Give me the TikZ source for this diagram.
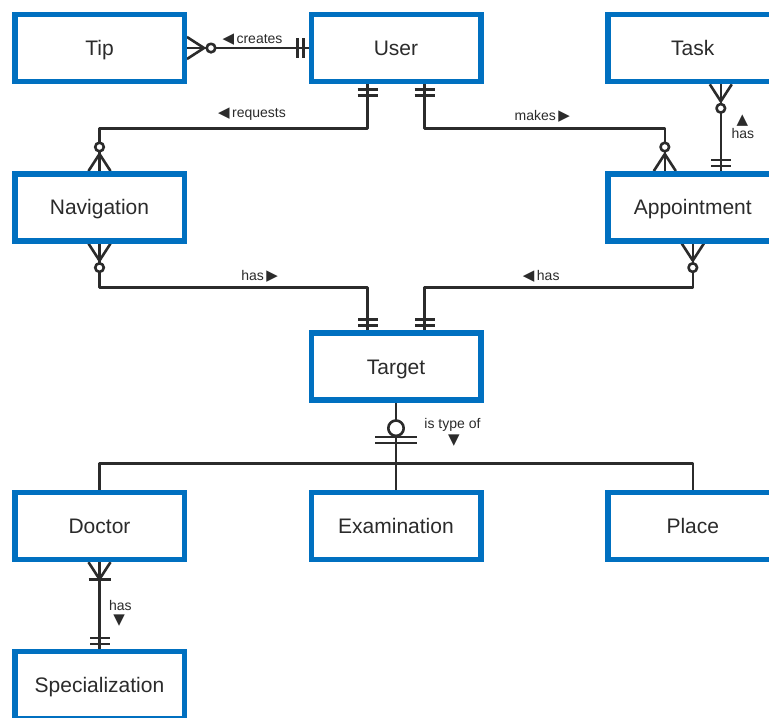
\documentclass[tikz,border=0pt]{standalone}
\usepackage{fontspec}
\setmainfont{Liberation Sans}
\newfontfamily\symf{DejaVu Sans}
\usetikzlibrary{calc}
\definecolor{boxblue}{RGB}{0,112,192}
\definecolor{ink}{RGB}{43,43,43}
\newcommand\mytri[1]{{\symf\fontsize{15}{15}\selectfont #1}}
\tikzset{
  entity/.style={draw=boxblue, line width=5.5pt, fill=white, minimum width=169.5pt,
    minimum height=67.1pt, inner sep=0pt, text height=15pt, text depth=0pt,
    font=\fontsize{21}{25}\selectfont, text=ink},
  conn/.style={draw=ink, line width=2.6pt, line join=round},
  lbl/.style={font=\fontsize{14}{16}\selectfont, text=ink, inner sep=0pt},
  tri/.style={font=\symf\fontsize{15}{15}\selectfont, text=ink, inner sep=0pt,
    text height=8pt, text depth=0pt, anchor=base},
  zmany/.pic={\draw[conn] (0pt,11pt)--(17pt,0pt)--(0pt,-11pt);
    \draw[conn] (0pt,0pt)--(17pt,0pt);
    \draw[conn,fill=white] (24pt,0pt) circle (4.3pt);},
  omany/.pic={\draw[conn] (0pt,11pt)--(17pt,0pt)--(0pt,-11pt);
    \draw[conn] (17pt,-11pt)--(17pt,11pt);},
  mone/.pic={\draw[conn] (5pt,-10pt)--(5pt,10pt) (11pt,-10pt)--(11pt,10pt);},
  zone/.pic={\draw[conn,fill=white] (25.3pt,0pt) circle (7.7pt);
    \draw[conn] (34pt,-21pt)--(34pt,21pt) (40pt,-21pt)--(40pt,21pt);}
}
\begin{document}
\begin{tikzpicture}[x=1pt,y=-1pt]
\useasboundingbox (0,0) rectangle (769,718);
\fill[white] (0,0) rectangle (769,718);
\clip (0,0) rectangle (769,718);

\path
  (99.5,48) coordinate (ctip)
  (396,48) coordinate (cuser)
  (692.8,48) coordinate (ctask)
  (99.5,207.3) coordinate (cnav)
  (692.8,207.3) coordinate (capp)
  (396,366.6) coordinate (ctarget)
  (99.5,525.9) coordinate (cdoc)
  (396,525.9) coordinate (cexam)
  (692.8,525.9) coordinate (cplace)
  (99.5,685.2) coordinate (cspec);

\node[entity] (tip) at (ctip) {Tip};
\node[entity] (user) at (cuser) {User};
\node[entity] (task) at (ctask) {Task};
\node[entity] (nav) at (cnav) {Navigation};
\node[entity] (app) at (capp) {Appointment};
\node[entity] (target) at (ctarget) {Target};
\node[entity] (doctor) at (cdoc) {Doctor};
\node[entity] (exam) at (cexam) {Examination};
\node[entity] (place) at (cplace) {Place};
\node[entity] (spec) at (cspec) {Specialization};

% connectors
\draw[conn] (tip.east) -- (user.west);
\draw[conn] ($(user.south)+(-28.5,0)$) -- ++(0,44) -| (nav.north);
\draw[conn] ($(user.south)+(28.5,0)$) -- ++(0,44) -| ($(app.north)+(-28,0)$);
\draw[conn] ($(task.south)+(28,0)$) -- ($(app.north)+(28,0)$);
\draw[conn] (nav.south) -- ++(0,44) -| ($(target.north)+(-28.5,0)$);
\draw[conn] (app.south) -- ++(0,44) -| ($(target.north)+(28.5,0)$);
\draw[conn] (target.south) -- (exam.north);
\draw[conn] (doctor.north) -- ++(0,-26) -| (place.north);
\draw[conn] (doctor.south) -- (spec.north);

% end symbols
\pic[rotate=0] at (tip.east) {zmany};
\pic[rotate=180] at (user.west) {mone};
\pic[rotate=-90] at ($(user.south)+(-28.5,0)$) {mone};
\pic[rotate=-90] at ($(user.south)+(28.5,0)$) {mone};
\pic[rotate=90] at (nav.north) {zmany};
\pic[rotate=90] at ($(app.north)+(-28,0)$) {zmany};
\pic[rotate=-90] at ($(task.south)+(28,0)$) {zmany};
\pic[rotate=90] at ($(app.north)+(28,0)$) {mone};
\pic[rotate=-90] at (nav.south) {zmany};
\pic[rotate=-90] at (app.south) {zmany};
\pic[rotate=90] at ($(target.north)+(-28.5,0)$) {mone};
\pic[rotate=90] at ($(target.north)+(28.5,0)$) {mone};
\pic[rotate=-90] at (target.south) {zone};
\pic[rotate=-90] at (doctor.south) {omany};
\pic[rotate=90] at (spec.north) {mone};

% redraw boxes on top of line ends
\foreach \n/\t in {tip/Tip,user/User,task/Task,nav/Navigation,app/Appointment,target/Target,doctor/Doctor,exam/Examination,place/Place,spec/Specialization}{
  \node[entity] at (\n) {\t};
}

% labels
\node[lbl, anchor=base] (lcreates) at (252.5,43) {\mytri{◀}\kern2.5pt creates};
\node[lbl, anchor=base] (lrequests) at (252,117.5) {\mytri{◀}\kern2.5pt requests};
\node[lbl, anchor=base] (lmakes) at (542.3,120) {makes\kern2.5pt\mytri{▶}};
\node[lbl, anchor=base] (lhasnav) at (259.7,280.7) {has\kern2.5pt\mytri{▶}};
\node[lbl, anchor=base] (lhasapp) at (541.2,280.7) {\mytri{◀}\kern2.5pt has};
\node[tri] (ttask) at (742.5,124.5) {▲};
\node[lbl, anchor=base] (lhastask) at (742.8,138.5) {has};
\node[lbl, anchor=base] (ltype) at (452.5,428.3) {is type of};
\node[tri] (ttype) at (454,444.5) {▼};
\node[lbl, anchor=base] (lhasdoc) at (120.3,610.5) {has};
\node[tri] (tdoc) at (119.2,624) {▼};
\end{tikzpicture}
\end{document}
